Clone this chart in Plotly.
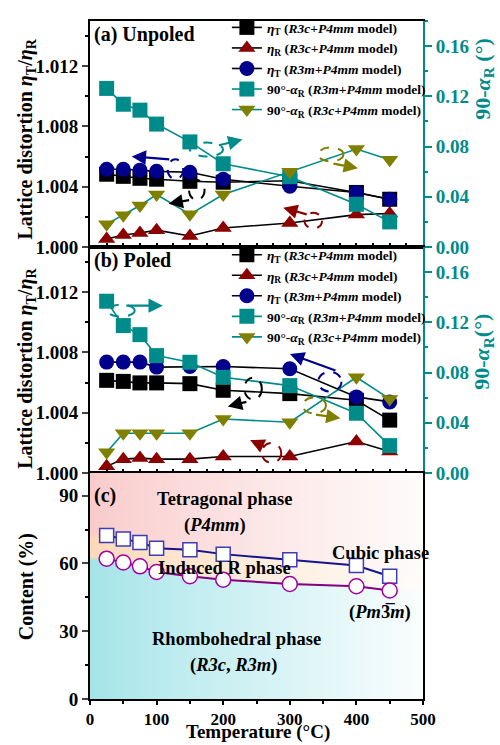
import numpy as np, zlib, struct, base64
import plotly.graph_objects as go

temps = [25, 50, 75, 100, 150, 200, 300, 400, 450]

# (a) Unpoled
a_etaT_R3c = [1.00483, 1.00469, 1.00456, 1.0045, 1.00436, 1.0043, 1.0044, 1.00362, 1.00317]
a_etaR_R3c = [1.00053, 1.0008, 1.00093, 1.00112, 1.00073, 1.00126, 1.00159, 1.00215, 1.00222]
a_etaT_R3m = [1.00516, 1.00516, 1.0051, 1.00502, 1.00496, 1.0045, 1.00403, 1.00362, 1.00317]
a_alpha_R3m = [0.1263, 0.1137, 0.109, 0.0979, 0.0837, 0.0663, 0.0560, 0.0340, 0.0200]
a_alpha_R3c = [0.0182, 0.0253, 0.033, 0.0418, 0.026, 0.0418, 0.0600, 0.0780, 0.0695]

# (b) Poled
b_etaT_R3c = [1.00615, 1.00608, 1.00598, 1.00598, 1.00593, 1.00549, 1.00527, 1.00483, 1.00351]
b_etaR_R3c = [1.00044, 1.00092, 1.00099, 1.00092, 1.00092, 1.0011, 1.0011, 1.00209, 1.00143]
b_etaT_R3m = [1.00736, 1.00736, 1.00736, 1.00703, 1.00707, 1.00707, 1.00692, 1.00505, 1.00472]
b_alpha_R3m = [0.1368, 0.1174, 0.1102, 0.0935, 0.0882, 0.0762, 0.0696, 0.0476, 0.0218]
b_alpha_R3c = [0.0165, 0.0316, 0.0316, 0.0316, 0.0316, 0.043, 0.0404, 0.0762, 0.059]

# (c) Phase content
c_square = [72.3, 70.8, 69.3, 66.7, 66.0, 64.1, 61.6, 59.1, 54.3]
c_circle = [62.1, 60.4, 58.7, 56.2, 54.3, 52.8, 50.9, 49.9, 48.0]

FONT = "Liberation Serif"
BLACK = "#000000"
RED = "rgb(140,0,0)"
NAVY = "rgb(0,0,140)"
TEAL = "rgb(0,139,139)"
OLIVE = "rgb(128,128,0)"

W, H = 500, 745
ML, MR, MT, MB = 90, 67, 13, 46
PW, PH = W - ML - MR, H - MT - MB


def px(x):
    return (x - ML) / PW


def py(y):
    return (H - MB - y) / PH


fig = go.Figure()

names = [
    "<i>η</i><sub>T</sub> (<i>R3c</i>+<i>P4mm</i> model)",
    "<i>η</i><sub>R</sub> (<i>R3c</i>+<i>P4mm</i> model)",
    "<i>η</i><sub>T</sub> (<i>R3m</i>+<i>P4mm</i> model)",
    "90°-<i>α</i><sub>R</sub> (<i>R3m</i>+<i>P4mm</i> model)",
    "90°-<i>α</i><sub>R</sub> (<i>R3c</i>+<i>P4mm</i> model)",
]
styles = [
    ("square", BLACK, BLACK, False),
    ("triangle-up", RED, BLACK, False),
    ("circle", NAVY, BLACK, False),
    ("square", TEAL, TEAL, True),
    ("triangle-down", OLIVE, TEAL, True),
]

panels = [
    ("x", "y", "y2", "legend", [a_etaT_R3c, a_etaR_R3c, a_etaT_R3m, a_alpha_R3m, a_alpha_R3c]),
    ("x2", "y3", "y4", "legend2", [b_etaT_R3c, b_etaR_R3c, b_etaT_R3m, b_alpha_R3m, b_alpha_R3c]),
]
for xa, yl, yr, leg, series in panels:
    for nm, (sym, mcol, lcol, right), vals in zip(names, styles, series):
        fig.add_trace(go.Scatter(
            x=temps, y=vals, name=nm, mode="lines+markers",
            xaxis=xa, yaxis=yr if right else yl, legend=leg,
            line=dict(color=lcol, width=1.6),
            marker=dict(symbol=sym, size=15, color=mcol, line=dict(width=0)),
        ))

fig.add_trace(go.Scatter(
    x=temps, y=c_square, mode="lines+markers", showlegend=False,
    xaxis="x3", yaxis="y5", line=dict(color="rgb(20,20,140)", width=2),
    marker=dict(symbol="square", size=14, color="white", line=dict(color="rgb(60,60,180)", width=1.5)),
))
fig.add_trace(go.Scatter(
    x=temps, y=c_circle, mode="lines+markers", showlegend=False,
    xaxis="x3", yaxis="y5", line=dict(color="rgb(130,0,130)", width=2),
    marker=dict(symbol="circle", size=15, color="white", line=dict(color="rgb(160,0,160)", width=1.5)),
))

# ---- background gradient for panel (c), boundaries from the data curves ----
iw, ih = 343, 229
xs = (np.arange(iw) + 0.5) / iw * 500.0
ys = 100.0 - (np.arange(ih) + 0.5) / ih * 100.0
b_low = np.interp(xs, temps, c_circle)
b_high = np.interp(xs, temps, c_square)
cyan = np.array([155, 226, 231], float)
orange = np.array([252, 214, 178], float)
pink = np.array([250, 198, 198], float)
Y = ys[:, None]
t1 = np.clip((Y - b_low[None, :]) / 2.0 + 0.5, 0, 1)[..., None]
t2 = np.clip((Y - b_high[None, :]) / 2.0 + 0.5, 0, 1)[..., None]
col = cyan * (1 - t1) + orange * t1
col = col * (1 - t2) + pink * t2
fade = (0.08 + 0.87 * (xs / 500.0) ** 0.85)[None, :, None]
col = col * (1 - fade) + 255 * fade
img = np.clip(col, 0, 255).astype(np.uint8)
raw = b"".join(b"\x00" + img[r].tobytes() for r in range(ih))


def chunk(t, d):
    return struct.pack(">I", len(d)) + t + d + struct.pack(">I", zlib.crc32(t + d) & 0xFFFFFFFF)


png = (b"\x89PNG\r\n\x1a\n" + chunk(b"IHDR", struct.pack(">IIBBBBB", iw, ih, 8, 2, 0, 0, 0))
       + chunk(b"IDAT", zlib.compress(raw, 9)) + chunk(b"IEND", b""))
uri = "data:image/png;base64," + base64.b64encode(png).decode()

fig.add_layout_image(dict(source=uri, xref="x3", yref="y5", x=0, y=100, sizex=500, sizey=100,
                          sizing="stretch", layer="below", xanchor="left", yanchor="top"))

tickf = dict(family=FONT, size=19, color="black", weight="bold")
xtickf = dict(family=FONT, size=17, color="black", weight="bold")
teal_tickf = dict(family=FONT, size=19, color=TEAL, weight="bold")
d1, d2 = 2 / 3, 1 / 3


def xax(anchor, labels):
    a = dict(domain=[0, 1], anchor=anchor, range=[0, 500], showgrid=False, zeroline=False,
             showline=True, linecolor="black", linewidth=2, mirror=True,
             ticks="outside" if labels else "inside", ticklen=4, tickwidth=1.5,
             tickcolor="black", dtick=100 if labels else 25, tick0=0, showticklabels=labels,
             tickfont=xtickf)
    if labels:
        a["minor"] = dict(ticks="outside", ticklen=3, dtick=50, tickcolor="black")
    return a


def yl(domain, anchor):
    return dict(domain=domain, anchor=anchor, range=[1.0, 1.015], showgrid=False, zeroline=False,
                showline=True, linecolor="black", linewidth=2, ticks="outside", ticklen=6, tickwidth=1.5,
                tickvals=[1.0, 1.004, 1.008, 1.012], tickformat=".3f", tickfont=tickf,
                minor=dict(ticks="outside", ticklen=3, dtick=0.002, tick0=1.0, tickcolor="black"))


def yr(over, anchor, title):
    return dict(overlaying=over, anchor=anchor, side="right", range=[0, 0.18], showgrid=False, zeroline=False,
                showline=True, linecolor=TEAL, linewidth=2, ticks="outside", ticklen=7, tickwidth=1.5,
                tickcolor=TEAL, tickvals=[0, 0.04, 0.08, 0.12, 0.16], tickformat=".2f", tickfont=teal_tickf,
                minor=dict(ticks="outside", ticklen=3, dtick=0.02, tick0=0, tickcolor=TEAL),
                title=dict(text=title, standoff=3,
                           font=dict(family=FONT, size=22, color=TEAL, weight="bold")))


legfont = dict(family=FONT, size=13.5, color="black", weight="bold")
pad_a = "&nbsp;" * 20
pad_b = "&nbsp;" * 3

fig.update_layout(
    width=W, height=H, margin=dict(l=ML, r=MR, t=MT, b=MB),
    paper_bgcolor="white", plot_bgcolor="rgba(0,0,0,0)",
    xaxis=xax("y", False), xaxis2=xax("y3", False), xaxis3=xax("y5", True),
    yaxis=yl([d1, 1], "x"), yaxis2=yr("y", "x", pad_a + "90-<i>α</i><sub>R</sub> (°)"),
    yaxis3=yl([d2, d1], "x2"), yaxis4=yr("y3", "x2", pad_b + "90-<i>α</i><sub>R</sub>(°)"),
    yaxis5=dict(domain=[0, d2], anchor="x3", range=[0, 100], showgrid=False, zeroline=False,
                showline=True, linecolor="black", linewidth=2, mirror=True, ticks="outside", ticklen=6,
                tickwidth=1.5, tickvals=[0, 30, 60, 90], tickfont=tickf,
                minor=dict(ticks="outside", ticklen=3, dtick=15, tick0=0, tickcolor="black")),
    legend=dict(x=px(231), y=py(4), xanchor="left", yanchor="top", bgcolor="rgba(0,0,0,0)",
                font=legfont, tracegroupgap=0, itemwidth=30),
    legend2=dict(x=px(231), y=py(234), xanchor="left", yanchor="top", bgcolor="rgba(0,0,0,0)",
                 font=legfont, tracegroupgap=0, itemwidth=30),
    showlegend=True,
)

anns = []


def text(x, y, s, size=17, anchor="center", color="black", angle=0, yanchor="middle"):
    anns.append(dict(x=px(x), y=py(y), xref="paper", yref="paper", text=s, showarrow=False,
                     xanchor=anchor, yanchor=yanchor, textangle=angle,
                     font=dict(family=FONT, size=size, color=color, weight="bold")))


text(92, 27, "(a) Unpoled", 20, "left")
text(92, 255, "(b) Poled", 20, "left")
text(92, 493, "(c)", 20, "left")
text(25, 132, "Lattice distortion <i>η</i><sub>T</sub>/<i>η</i><sub>R</sub>", 20, angle=-90)
text(25, 364, "Lattice distortion <i>η</i><sub>T</sub>/<i>η</i><sub>R</sub>", 20, angle=-90)
text(24, 585, "Content (%)", 20, angle=-90)
text(263, 746, "Temperature (°C)", 19, yanchor="bottom")
text(229, 497, "Tetragonal phase", 18.5)
text(219, 523, "(<i>P4mm</i>)", 18.5)
text(229, 566, "Induced R phase", 18.5)
text(389, 551, "Cubic phase", 18.5)
text(389, 611, "(<i>Pm</i>3\u0305<i>m</i>)", 18.5)
text(241, 638, "Rhombohedral phase", 18.5)
text(238, 665, "(<i>R3c</i>, <i>R3m</i>)", 18.5)

shapes = []


def arrow(tx, ty, hx, hy, color):
    anns.append(dict(x=px(hx), y=py(hy), xref="paper", yref="paper", ax=tx - hx, ay=ty - hy,
                     axref="pixel", ayref="pixel", showarrow=True, arrowhead=2, arrowsize=1.3,
                     arrowwidth=2.2, arrowcolor=color, text=""))


def ellipse(cx, cy, rx, ry, color):
    shapes.append(dict(type="circle", xref="paper", yref="paper", x0=px(cx - rx), x1=px(cx + rx),
                       y0=py(cy + ry), y1=py(cy - ry), line=dict(color=color, width=2, dash="dash")))


# panel (a) guides
ellipse(178, 163, 8, 10, NAVY); arrow(172, 153, 133, 150, NAVY)
ellipse(200, 184, 8, 10, BLACK); arrow(193, 194, 171, 198, BLACK)
ellipse(210, 143, 17, 7, TEAL); arrow(222, 139, 247, 133, TEAL)
ellipse(338, 148, 13, 7, OLIVE); arrow(340, 157, 366, 162, OLIVE)
ellipse(320, 215, 9, 8, RED); arrow(314, 209, 289, 202, RED)
# panel (b) guides
ellipse(122, 306, 14, 6, TEAL); arrow(127, 301, 165, 301, TEAL)
ellipse(337, 378, 12, 10, NAVY); arrow(343, 367, 296, 350, NAVY)
ellipse(258, 385, 9, 11, BLACK); arrow(252, 398, 232, 403, BLACK)
ellipse(321, 402, 12, 8, OLIVE); arrow(322, 411, 348, 415, OLIVE)
ellipse(277, 450, 10, 10, RED); arrow(270, 444, 255, 437, RED)

fig.update_layout(annotations=anns, shapes=shapes)

fig.write_html("out.html", config={"displayModeBar": False},
               post_script="document.body.style.margin='0px';document.body.style.overflow='hidden';")
